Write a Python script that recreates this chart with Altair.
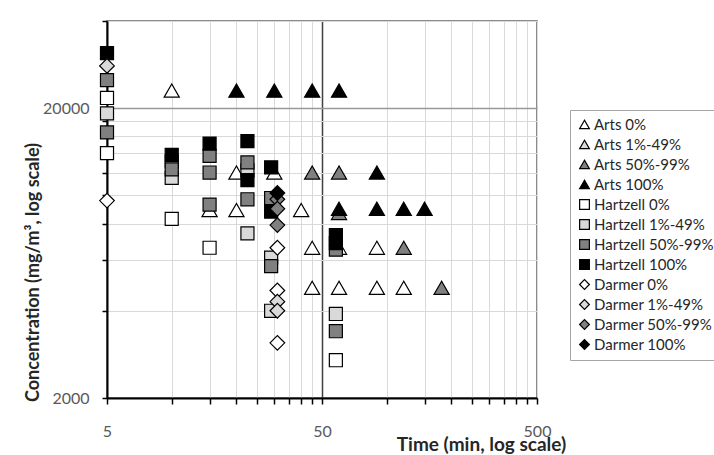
import altair as alt
import pandas as pd

series_names = ["Arts 0%", "Arts 1%-49%", "Arts 50%-99%", "Arts 100%",
                "Hartzell 0%", "Hartzell 1%-49%", "Hartzell 50%-99%", "Hartzell 100%",
                "Darmer 0%", "Darmer 1%-49%", "Darmer 50%-99%", "Darmer 100%"]
series_groups = ["Arts"] * 4 + ["Hartzell"] * 4 + ["Darmer"] * 4
series_fills = ["#ffffff", "#d9d9d9", "#808080", "#000000"] * 3
series_shapes = ["triangle-up"] * 4 + ["square"] * 4 + ["diamond"] * 4
series_strokes = ["#000000"] * 12

# time (min), concentration (mg/m3) per series
arts_0_time = [10, 15, 20, 20, 30, 40, 45, 45, 60, 60, 90, 90, 120]
arts_0_conc = [23000, 8900, 12000, 8900, 12000, 8900, 6600, 4800, 6600, 4800, 6600, 4800, 4800]
arts_1_time = []
arts_1_conc = []
arts_50_time = [45, 60, 60, 120, 180]
arts_50_conc = [12000, 12000, 8700, 6600, 4800]
arts_100_time = [20, 30, 45, 60, 90, 60, 90, 120, 150]
arts_100_conc = [23000, 23000, 23000, 23000, 12000, 9000, 9000, 9000, 9000]

hartzell_0_time = [5, 5, 10, 15, 58]
hartzell_0_conc = [21700, 14000, 8300, 6600, 2700]
hartzell_1_time = [5, 10, 10, 22.5, 22.5, 29, 29, 58]
hartzell_1_conc = [19200, 13100, 11500, 12200, 7400, 6100, 4000, 3900]
hartzell_50_time = [5, 5, 10, 15, 15, 15, 22.5, 22.5, 29, 29, 58, 58]
hartzell_50_conc = [25000, 16500, 12300, 13700, 12000, 9300, 13000, 9700, 9800, 5700, 6500, 3400]
hartzell_100_time = [5, 10, 15, 22.5, 22.5, 29, 29, 58, 58]
hartzell_100_conc = [31000, 13800, 15100, 15400, 11300, 12500, 8800, 7300, 6850]

darmer_0_time = [5, 31, 31, 31]
darmer_0_conc = [9600, 6600, 4700, 3100]
darmer_1_time = [5, 31, 31]
darmer_1_conc = [28000, 4300, 4000]
darmer_50_time = [31, 31, 31]
darmer_50_conc = [9700, 9000, 7900]
darmer_100_time = [31]
darmer_100_conc = [10200]

series_data = [
    (arts_0_time, arts_0_conc), (arts_1_time, arts_1_conc),
    (arts_50_time, arts_50_conc), (arts_100_time, arts_100_conc),
    (hartzell_0_time, hartzell_0_conc), (hartzell_1_time, hartzell_1_conc),
    (hartzell_50_time, hartzell_50_conc), (hartzell_100_time, hartzell_100_conc),
    (darmer_0_time, darmer_0_conc), (darmer_1_time, darmer_1_conc),
    (darmer_50_time, darmer_50_conc), (darmer_100_time, darmer_100_conc),
]

x_ticks = [5, 10, 15, 20, 25, 30, 35, 40, 45, 50, 100, 150, 200, 250, 300, 350, 400, 450, 500]
y_ticks = [2000, 4000, 6000, 8000, 10000, 12000, 14000, 16000, 18000, 20000, 40000]

rows = []
for name, grp, (ts, cs) in zip(series_names, series_groups, series_data):
    for t, c in zip(ts, cs):
        rows.append({"series": name, "group": grp, "time": t, "conc": c})
df = pd.DataFrame(rows)

FONT = "Lato"
legend = alt.Legend(title=None, orient="none", legendX=463, legendY=89,
                    labelFont=FONT, labelFontSize=15, labelColor="#262626",
                    symbolSize=95, symbolStrokeWidth=1.2,
                    rowPadding=4, labelOffset=2, padding=7,
                    strokeColor="#a6a6a6", fillColor="white", values=series_names)

x_enc = alt.X("time:Q",
              scale=alt.Scale(type="log", domain=[5, 500], nice=False),
              axis=alt.Axis(values=x_ticks, format="d",
                            labelExpr="(datum.value == 5 || datum.value == 50 || datum.value == 500) ? datum.label : ''",
                            labelFlush=False, labelOverlap=False,
                            labelFont=FONT, labelFontSize=16, labelColor="#595959", labelPadding=19,
                            domainColor="black", domainWidth=2,
                            tickColor="black", tickSize=6, tickWidth=1.5,
                            gridColor={"condition": {"test": "datum.value === 50", "value": "#404040"}, "value": "#d9d9d9"},
                            gridWidth={"condition": {"test": "datum.value === 50", "value": 1.5}, "value": 1},
                            title="Time (min, log scale)", titleFont=FONT, titleFontSize=19,
                            titleFontWeight="bold", titleColor="#262626",
                            titleX=374, titleY=46, titleAlign="center", titleBaseline="middle"))
y_enc = alt.Y("conc:Q",
              scale=alt.Scale(type="log", domain=[2000, 40000], nice=False),
              axis=alt.Axis(values=y_ticks, format="d",
                            labelExpr="(datum.value == 2000 || datum.value == 20000) ? datum.label : ''",
                            labelFlush=False, labelOverlap=False,
                            labelFont=FONT, labelFontSize=16, labelColor="#595959", labelPadding=13,
                            domainColor="black", domainWidth=2,
                            tickColor="black", tickSize=5, tickWidth=1.5,
                            gridColor={"condition": {"test": "datum.value === 20000", "value": "#999999"}, "value": "#d9d9d9"},
                            gridWidth={"condition": {"test": "datum.value === 20000", "value": 1.5}, "value": 1},
                            title="Concentration (mg/m³, log scale)", titleFont=FONT, titleFontSize=18,
                            titleFontWeight="bold", titleColor="#262626",
                            titleX=-74, titleY=251, titleAngle=-90, titleAlign="center", titleBaseline="middle"))

base = alt.Chart(df).encode(
    x=x_enc,
    y=y_enc,
    fill=alt.Fill("series:N", scale=alt.Scale(domain=series_names, range=series_fills), legend=legend),
    shape=alt.Shape("series:N", scale=alt.Scale(domain=series_names, range=series_shapes), legend=legend),
    stroke=alt.Stroke("series:N", scale=alt.Scale(domain=series_names, range=series_strokes), legend=legend),
)

group_sizes = {"Arts": 230, "Hartzell": 170, "Darmer": 215}
layers = [
    base.transform_filter(alt.datum.group == g).mark_point(
        filled=True, strokeWidth=1.2, size=s, opacity=1)
    for g, s in group_sizes.items()
]

chart = alt.layer(*layers).properties(
    width=430, height=377,
    autosize=alt.AutoSizeParams(type="none"),
    padding={"left": 107, "top": 21, "right": 177, "bottom": 57},
    background="white",
).configure_view(
    stroke="#666666", strokeWidth=1.5
)

chart.save("out.html", embed_options={"renderer": "svg", "actions": False})
